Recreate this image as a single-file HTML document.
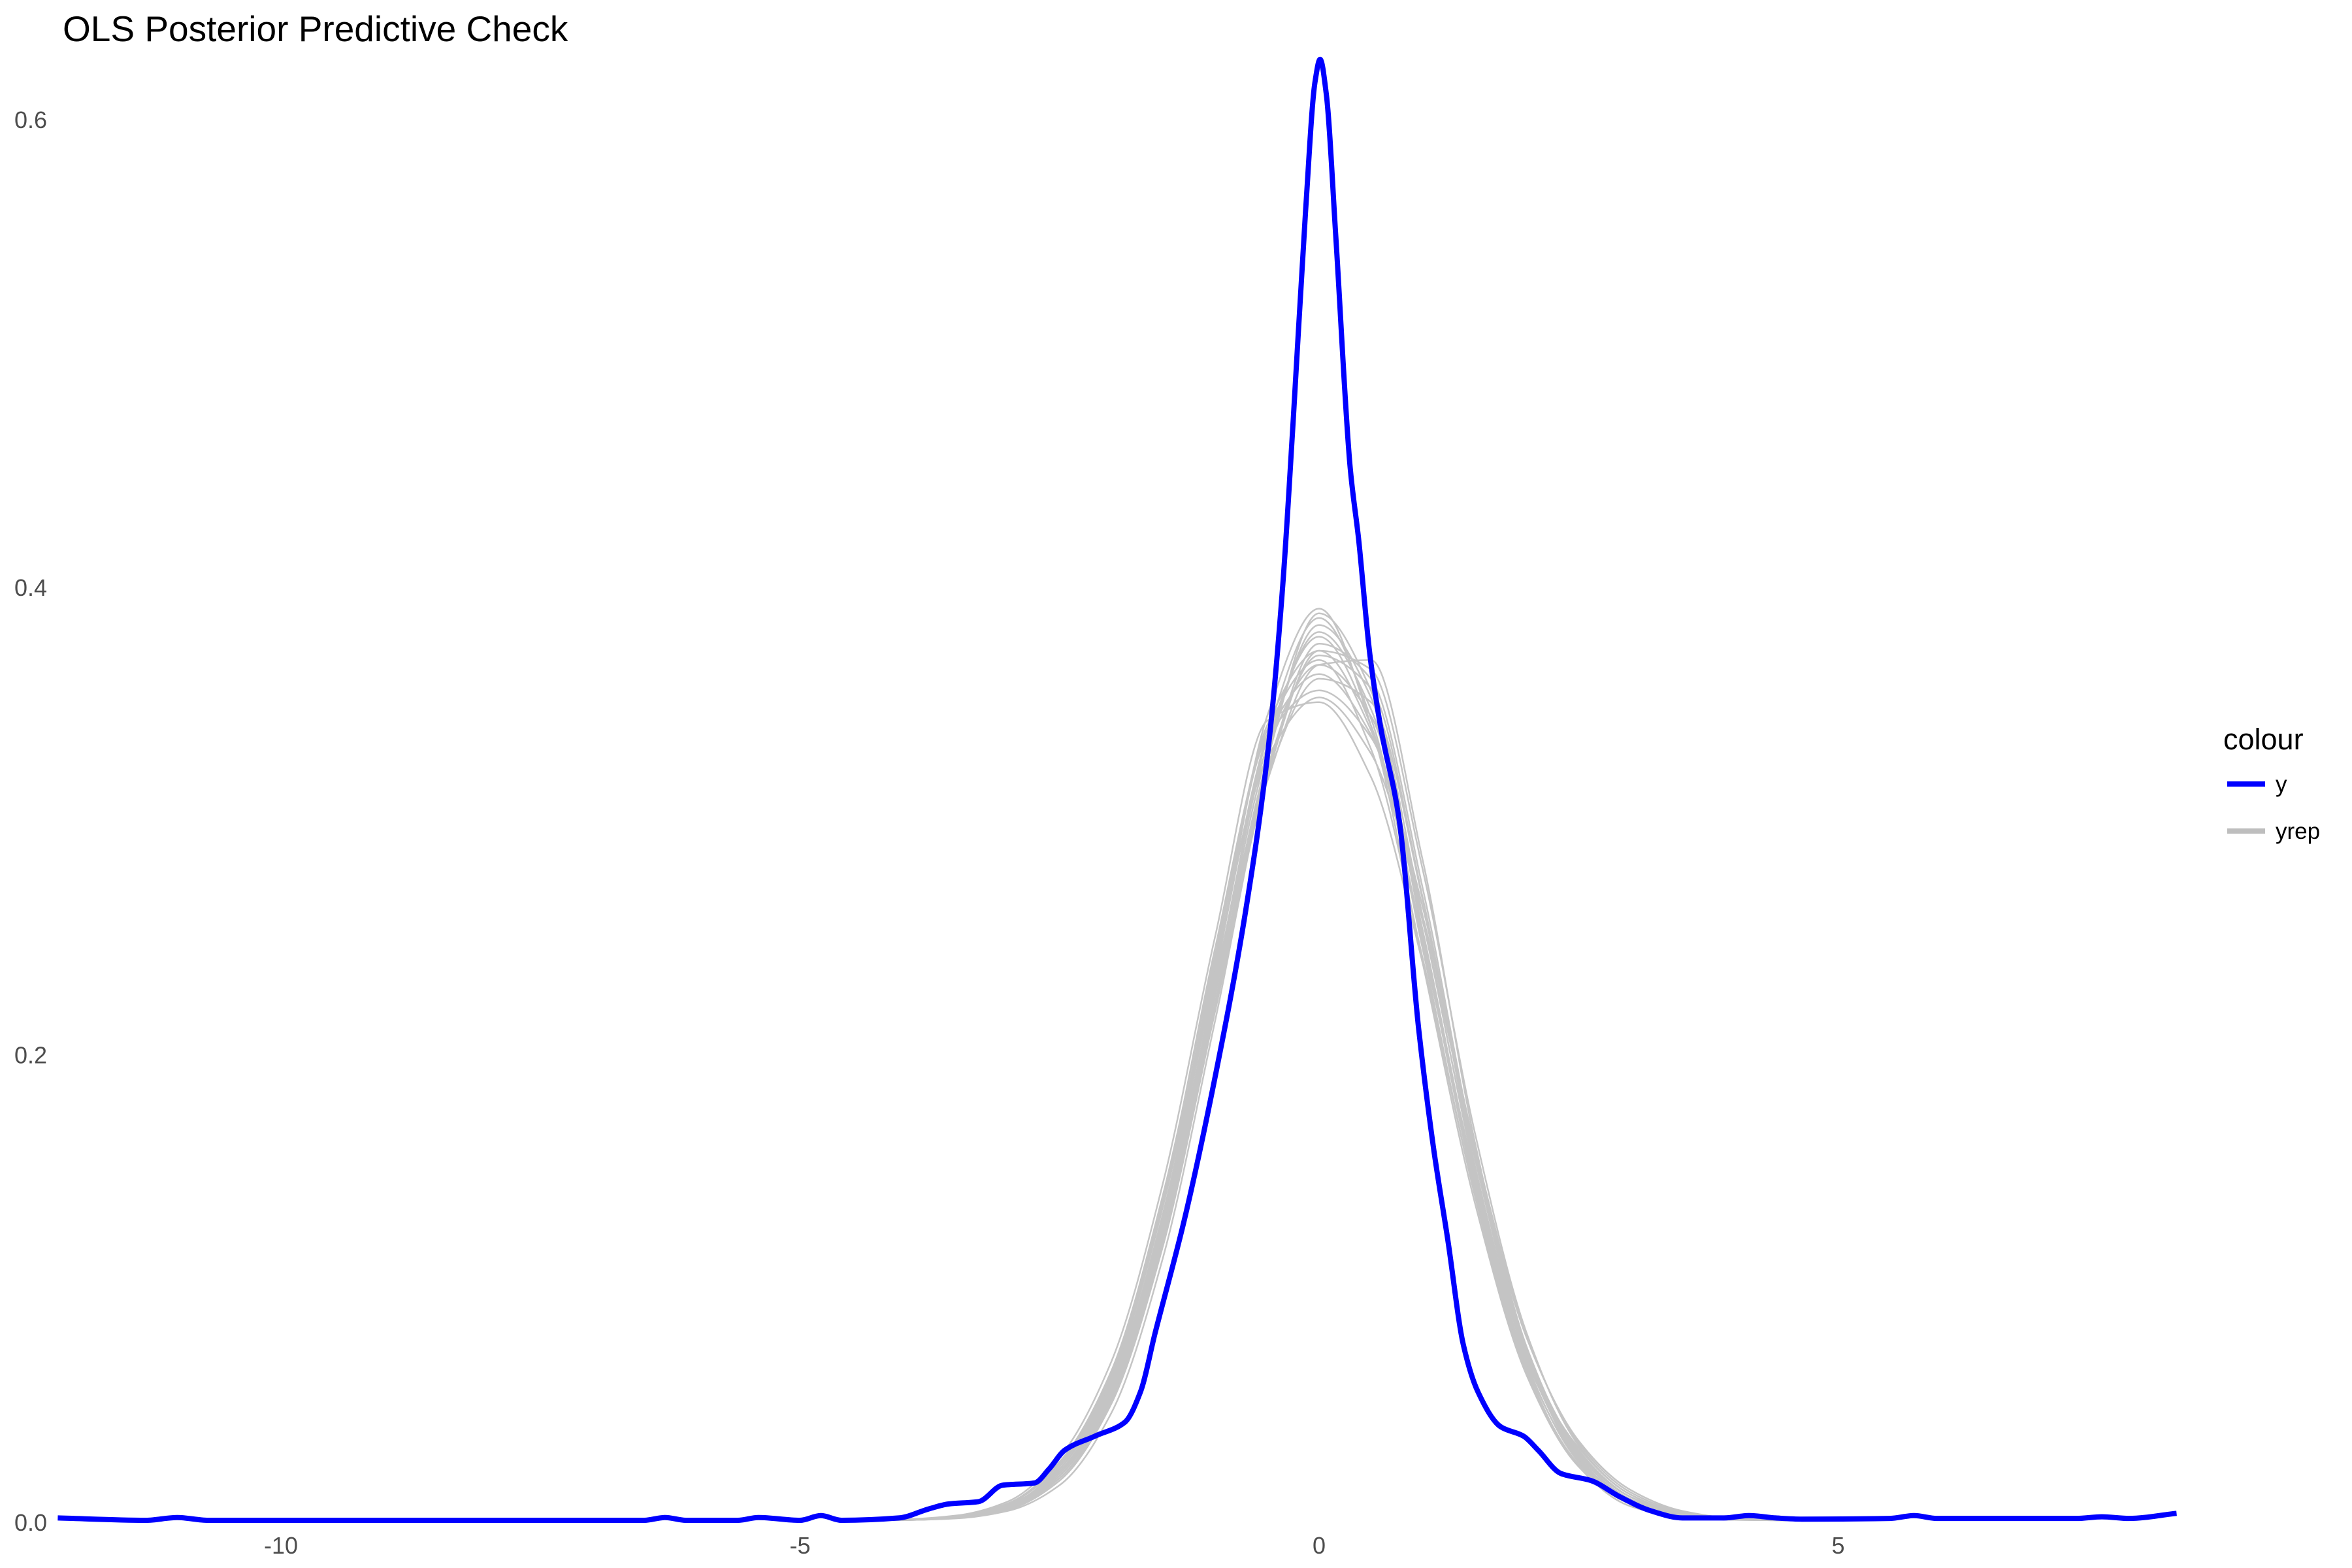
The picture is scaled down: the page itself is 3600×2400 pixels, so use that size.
<!DOCTYPE html>
<html><head><meta charset="utf-8"><style>
html,body{margin:0;padding:0;background:#fff;}
svg{display:block;}
text{font-family:"Liberation Sans",Arial,sans-serif;}
</style></head><body>
<svg id="chart" width="3600" height="2400" viewBox="0 0 3600 2400">
<text x="96" y="63" font-size="55" fill="#000">OLS Posterior Predictive Check</text>
<g id="yticks"></g><g id="xticks"></g>
<g id="plot"></g>
<g>
<text x="3403" y="1147" font-size="45" fill="#000">colour</text>
<line x1="3409" y1="1200" x2="3467" y2="1200" stroke="#0000ff" stroke-width="8"/>
<text x="3483" y="1212" font-size="35" fill="#000">y</text>
<line x1="3409" y1="1272" x2="3467" y2="1272" stroke="#bebebe" stroke-width="8"/>
<text x="3483" y="1284" font-size="35" fill="#000">yrep</text>
</g>
</svg>
<script>
const xTicks = [-10, -5, 0, 5];
const xTickLabels = ["-10", "-5", "0", "5"];
const yTicks = [0, 0.2, 0.4, 0.6];
const yTickLabels = ["0.0", "0.2", "0.4", "0.6"];
const yX = [-12.15,-11.3,-11.0,-10.7,-6.5,-6.3,-6.1,-5.6,-5.4,-5.0,-4.8,-4.6,-4.05,-3.75,-3.57,-3.28,-3.05,-2.74,-2.6,-2.45,-2.16,-1.87,-1.72,-1.58,-1.29,-1.0,-0.71,-0.49,-0.35,-0.25,-0.13,-0.04,0.01,0.07,0.16,0.30,0.38,0.49,0.59,0.77,0.96,1.1,1.24,1.39,1.53,1.75,1.97,2.11,2.33,2.62,2.9,3.2,3.5,3.9,4.14,4.4,4.65,5.5,5.73,5.95,7.3,7.54,7.8,8.26];
const yDens = [0.001,0,0.0012,0,0,0.0012,0,0,0.0012,0,0.002,0,0.001,0.005,0.007,0.008,0.015,0.016,0.022,0.03,0.036,0.042,0.055,0.08,0.13,0.19,0.26,0.33,0.40,0.47,0.56,0.615,0.625,0.61,0.55,0.45,0.42,0.37,0.34,0.30,0.21,0.16,0.12,0.075,0.055,0.04,0.036,0.03,0.02,0.017,0.01,0.004,0.001,0.001,0.002,0.001,0.0005,0.0008,0.002,0.0008,0.0008,0.0015,0.0008,0.003];
const yrepX = [-4.5,-4,-3.5,-3,-2.5,-2,-1.5,-1,-0.5,0,0.5,1,1.5,2,2.5,3,3.5,4,4.5];
const yrep1 = [0,0.0002,0.0012,0.0055,0.020,0.056,0.128,0.230,0.331,0.380,0.347,0.252,0.146,0.067,0.025,0.007,0.0017,0.0003,0];
const yrep2 = [0,0.0003,0.0015,0.006,0.022,0.060,0.135,0.240,0.340,0.372,0.338,0.248,0.142,0.064,0.024,0.008,0.002,0.0004,0];
const yrep3 = [0,0.0001,0.001,0.005,0.018,0.052,0.122,0.225,0.325,0.388,0.355,0.258,0.150,0.070,0.026,0.007,0.0015,0.0002,0];
const yrep4 = [0,0.0002,0.0014,0.007,0.024,0.062,0.138,0.245,0.335,0.355,0.335,0.262,0.155,0.072,0.028,0.009,0.002,0.0003,0];
const yrep5 = [0,0.0002,0.001,0.0045,0.017,0.050,0.120,0.220,0.320,0.375,0.360,0.270,0.158,0.074,0.029,0.010,0.003,0.0005,0];
const yrep6 = [0,0.0003,0.0016,0.0065,0.021,0.058,0.132,0.236,0.338,0.368,0.330,0.240,0.140,0.066,0.026,0.009,0.0025,0.0004,0];
const yrep7 = [0,0.0001,0.0012,0.0058,0.020,0.055,0.126,0.228,0.328,0.383,0.352,0.250,0.144,0.065,0.023,0.006,0.0014,0.0002,0];
const yrep8 = [0,0.0002,0.0013,0.006,0.023,0.061,0.136,0.232,0.318,0.360,0.350,0.265,0.152,0.070,0.031,0.011,0.003,0.0004,0];
const yrep9 = [0,0.0002,0.0011,0.005,0.019,0.054,0.124,0.226,0.334,0.378,0.340,0.246,0.148,0.069,0.027,0.008,0.002,0.0003,0];
const yrep10 = [0,0.0003,0.0014,0.0062,0.022,0.059,0.131,0.238,0.330,0.366,0.344,0.256,0.151,0.071,0.028,0.009,0.0022,0.0004,0];
const yrep11 = [0,0.0001,0.0009,0.0048,0.018,0.051,0.121,0.222,0.322,0.370,0.356,0.266,0.156,0.073,0.030,0.010,0.0025,0.0005,0];
const yrep12 = [0,0.0002,0.0013,0.0057,0.021,0.057,0.130,0.234,0.336,0.386,0.343,0.244,0.139,0.063,0.024,0.0075,0.0018,0.0003,0];
const yrep13 = [0,0.0004,0.002,0.008,0.027,0.068,0.145,0.250,0.342,0.350,0.318,0.238,0.140,0.068,0.029,0.010,0.003,0.0006,0];
const yrep14 = [0,0.0001,0.0008,0.004,0.015,0.046,0.113,0.214,0.318,0.372,0.364,0.278,0.166,0.080,0.032,0.011,0.003,0.0006,0];
const yrep15 = [0,0.0003,0.0017,0.0072,0.025,0.064,0.140,0.242,0.336,0.362,0.336,0.256,0.158,0.078,0.034,0.013,0.004,0.0008,0];
const yrep16 = [0,0.0001,0.0009,0.0046,0.017,0.050,0.118,0.218,0.316,0.366,0.368,0.282,0.162,0.074,0.027,0.008,0.002,0.0003,0];
const yrep17 = [0,0.0002,0.0012,0.0052,0.019,0.053,0.125,0.232,0.344,0.390,0.340,0.238,0.136,0.062,0.023,0.007,0.0016,0.0002,0];
const yrep18 = [0,0.0003,0.0015,0.0068,0.024,0.063,0.137,0.238,0.326,0.352,0.328,0.258,0.160,0.079,0.033,0.012,0.0035,0.0007,0];
const yrepSeries = [yrep1,yrep2,yrep3,yrep4,yrep5,yrep6,yrep7,yrep8,yrep9,yrep10,yrep11,yrep12,yrep13,yrep14,yrep15,yrep16,yrep17,yrep18];

const NS = "http://www.w3.org/2000/svg";
function sx(v){ return 2019 + v * 158.9; }
function sy(v){ return 2327 - v * 3578; }
function pathFrom(xs, ys){
  const n = xs.length;
  const px = xs.map(sx), py = ys.map(sy);
  const d = [], m = [];
  for (let i=0;i<n-1;i++) d.push((py[i+1]-py[i])/(px[i+1]-px[i]));
  for (let i=0;i<n;i++){
    if (i===0) m.push(d[0]); else if (i===n-1) m.push(d[n-2]);
    else if (d[i-1]*d[i] <= 0) m.push(0);
    else { const h0=px[i]-px[i-1], h1=px[i+1]-px[i];
      const w1=2*h1+h0, w2=h1+2*h0; m.push((w1+w2)/(w1/d[i-1]+w2/d[i])); }
  }
  let s = "M" + px[0].toFixed(1) + "," + py[0].toFixed(1);
  for (let i=0;i<n-1;i++){
    const h = (px[i+1]-px[i])/3;
    s += "C"+(px[i]+h).toFixed(1)+","+(py[i]+m[i]*h).toFixed(1)+" "+(px[i+1]-h).toFixed(1)+","+(py[i+1]-m[i+1]*h).toFixed(1)+" "+px[i+1].toFixed(1)+","+py[i+1].toFixed(1);
  }
  return s;
}
const plot = document.getElementById("plot");
yrepSeries.forEach((s, i) => {
  const el = document.createElementNS(NS, "path");
  el.setAttribute("d", pathFrom(yrepX, s));
  el.setAttribute("fill", "none");
  el.setAttribute("stroke", "#c4c4c4");
  el.setAttribute("stroke-width", "2.5");
  
  
  plot.appendChild(el);
});
const yl = document.createElementNS(NS, "path");
yl.setAttribute("d", pathFrom(yX, yDens));
yl.setAttribute("fill", "none");
yl.setAttribute("stroke", "#0000ff");
yl.setAttribute("stroke-width", "8");
yl.setAttribute("stroke-linejoin", "round");


plot.appendChild(yl);

const xg = document.getElementById("xticks");
xTicks.forEach((v, i) => {
  const t = document.createElementNS(NS, "text");
  t.setAttribute("x", sx(v));
  t.setAttribute("y", 2378);
  t.setAttribute("text-anchor", "middle");
  t.setAttribute("font-size", "36");
  t.setAttribute("fill", "#4d4d4d");
  
  
  t.textContent = xTickLabels[i];
  xg.appendChild(t);
});
const ygp = document.getElementById("yticks");
yTicks.forEach((v, i) => {
  const t = document.createElementNS(NS, "text");
  t.setAttribute("x", 72);
  t.setAttribute("y", sy(v) + 16);
  t.setAttribute("text-anchor", "end");
  t.setAttribute("font-size", "36");
  t.setAttribute("fill", "#4d4d4d");
  
  
  t.textContent = yTickLabels[i];
  ygp.appendChild(t);
});
</script>
</body></html>
